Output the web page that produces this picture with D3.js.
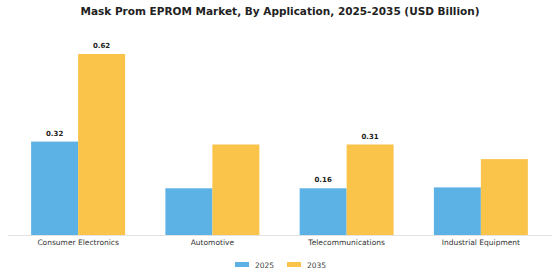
<!DOCTYPE html>
<html>
<head>
<meta charset="utf-8">
<script src="https://cdn.jsdelivr.net/npm/d3@7"></script>
<style>
  body { margin: 0; background: #fff; }
  text { font-family: "DejaVu Sans", sans-serif; }
</style>
</head>
<body>
<script>
// Data
const categories = ["Consumer Electronics", "Automotive", "Telecommunications", "Industrial Equipment"];
const seriesNames = ["2025", "2035"];
const values2025 = [0.32, 0.16, 0.16, 0.163];
const values2035 = [0.62, 0.31, 0.31, 0.26];
// which bars carry a value label (category index per series)
const labels2025 = ["0.32", null, "0.16", null];
const labels2035 = ["0.62", null, "0.31", null];

const colors = { "2025": "#5cb2e4", "2035": "#f9c449" };

const W = 560, H = 280;
const margin = { top: 20, bottom: 45, left: 11, right: 12 };

const svg = d3.select("body").append("svg")
  .attr("width", W)
  .attr("height", H);

// Title
svg.append("text")
  .attr("x", W / 2)
  .attr("y", 15)
  .attr("text-anchor", "middle")
  .attr("font-size", 10.5)
  .attr("font-weight", "bold")
  .attr("fill", "#222")
  .text("Mask Prom EPROM Market, By Application, 2025-2035 (USD Billion)");

const baseline = H - margin.bottom; // 235

const x0 = d3.scaleBand()
  .domain(categories)
  .range([margin.left, W - margin.right])
  .paddingInner(0.3)
  .paddingOuter(0.15);

const x1 = d3.scaleBand()
  .domain(seriesNames)
  .range([0, x0.bandwidth()]);

const y = d3.scaleLinear()
  .domain([0, 0.62])
  .range([baseline, 54]);

const rows = categories.map((c, i) => ({
  cat: c,
  vals: [
    { s: "2025", v: values2025[i], label: labels2025[i] },
    { s: "2035", v: values2035[i], label: labels2035[i] }
  ]
}));

// Axis line
svg.append("line")
  .attr("x1", 8).attr("x2", 552)
  .attr("y1", baseline + 0.5).attr("y2", baseline + 0.5)
  .attr("stroke", "#e2e2e2")
  .attr("stroke-width", 1);

const groups = svg.selectAll("g.cat")
  .data(rows)
  .join("g")
  .attr("class", "cat")
  .attr("transform", (d) => `translate(${x0(d.cat)},0)`);

groups.selectAll("rect")
  .data((d) => d.vals)
  .join("rect")
  .attr("x", (d) => x1(d.s))
  .attr("y", (d) => y(d.v))
  .attr("width", x1.bandwidth())
  .attr("height", (d) => baseline - y(d.v))
  .attr("fill", (d) => colors[d.s]);

groups.selectAll("text.val")
  .data((d) => d.vals.filter((v) => v.label))
  .join("text")
  .attr("class", "val")
  .attr("x", (d) => x1(d.s) + x1.bandwidth() / 2)
  .attr("y", (d) => y(d.v) - 6)
  .attr("text-anchor", "middle")
  .attr("font-size", 7)
  .attr("font-weight", "bold")
  .attr("fill", "#222")
  .text((d) => d.label);

// Category labels
const xaxis = d3.axisBottom(x0).tickSize(0).tickPadding(5);
const gx = svg.append("g")
  .attr("transform", `translate(0,${baseline})`)
  .call(xaxis);
gx.select(".domain").remove();
gx.selectAll("text")
  .attr("font-size", 7.5)
  .attr("fill", "#333")
  .attr("font-family", "DejaVu Sans, sans-serif");

// Legend
const legend = svg.append("g").attr("transform", "translate(0,265)");
const legendX = [235, 287];
seriesNames.forEach((s, i) => {
  legend.append("rect")
    .attr("x", legendX[i])
    .attr("y", -3)
    .attr("width", 14)
    .attr("height", 5)
    .attr("fill", colors[s]);
  legend.append("text")
    .attr("x", legendX[i] + 20)
    .attr("y", 0)
    .attr("dy", "0.35em")
    .attr("font-size", 7.5)
    .attr("fill", "#444")
    .text(s);
});
</script>
</body>
</html>
